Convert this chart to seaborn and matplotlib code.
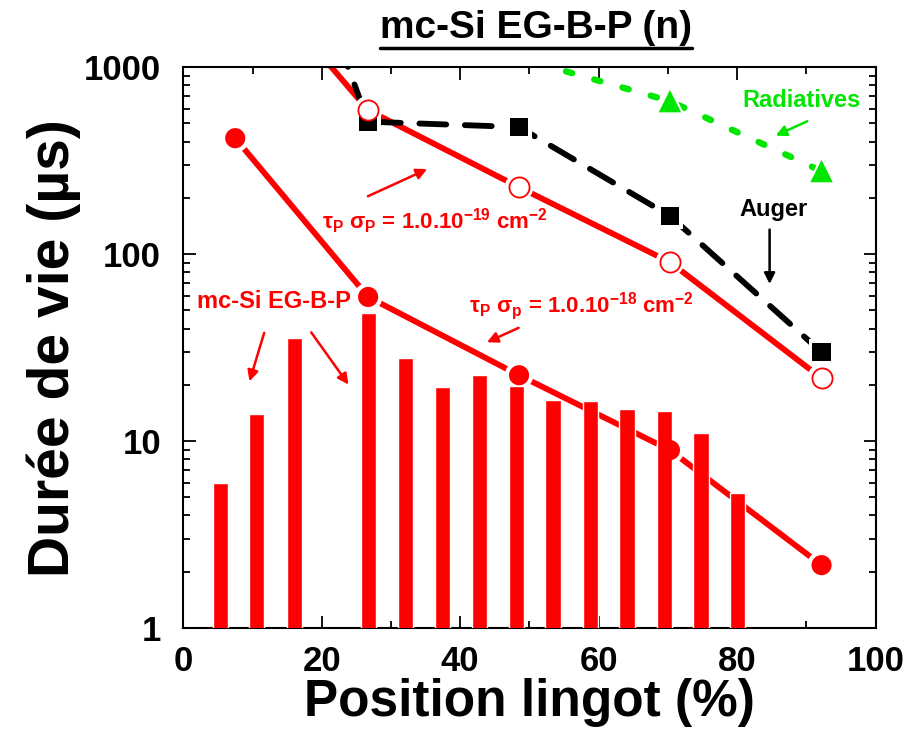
import numpy as np
import pandas as pd
import seaborn as sns
import matplotlib.pyplot as plt
import matplotlib.ticker as mticker
from matplotlib.lines import Line2D

# Données (position en %, durée de vie en µs)
positions = [7.5, 26.7, 48.5, 70.3, 92.2]
tau_sigma19 = [4000, 589, 228, 90.6, 21.7]     # τP σP = 1e-19 (premier point hors cadre)
tau_sigma18 = [417, 59, 22.5, 8.95, 2.17]      # τP σp = 1e-18
auger = [44000, 511, 478, 160, 29.9]           # premier point hors cadre
pos_radiatives = [26.7, 48.5, 70.3, 92.2]
radiatives = [1900, 1120, 658, 278]            # deux premiers hors cadre

pos_bars = [5.35, 10.6, 16.1, 26.8, 32.1, 37.4, 42.8, 48.1, 53.4, 58.8, 64.1, 69.5, 74.8, 80.1]
tau_bars = [5.98, 13.9, 35.4, 48.2, 27.9, 19.4, 22.7, 19.7, 16.6, 16.3, 14.8, 14.4, 11.1, 5.3]

RED = "#ff0000"
GREEN = "#00e600"

sns.set_style("ticks")
plt.rcParams["font.family"] = ["Liberation Sans", "DejaVu Sans"]
plt.rcParams["font.weight"] = "bold"
plt.rcParams["axes.labelweight"] = "bold"
plt.rcParams["mathtext.default"] = "regular"
for k in ["text.color", "axes.labelcolor", "xtick.color", "ytick.color", "axes.edgecolor"]:
    plt.rcParams[k] = "black"

fig = plt.figure(figsize=(9.12, 7.38), dpi=100)
ax = fig.add_axes([0.201, 0.149, 0.759, 0.760])
ax.set_yscale("log")

# Histogramme (barres)
ax.bar(pos_bars, tau_bars, width=2.2, color=RED, zorder=4)

# Courbes
df19 = pd.DataFrame({"x": positions, "y": tau_sigma19})
df18 = pd.DataFrame({"x": positions, "y": tau_sigma18})
dfA = pd.DataFrame({"x": positions, "y": auger})
dfR = pd.DataFrame({"x": pos_radiatives, "y": radiatives})

sns.lineplot(data=df19, x="x", y="y", sort=False, color=RED, lw=4.2, ax=ax, zorder=2)
sns.lineplot(data=df18, x="x", y="y", sort=False, color=RED, lw=4.2, ax=ax, zorder=2)
sns.lineplot(data=dfA, x="x", y="y", sort=False, color="black", lw=4.2, ax=ax, zorder=2,
             linestyle=(0, (4.6, 3.2)))
ax.get_lines()[-1].set_dash_capstyle("round")
sns.lineplot(data=dfR, x="x", y="y", sort=False, color=GREEN, lw=4.6, ax=ax, zorder=2,
             linestyle=(0, (1.0, 3.6)))
ax.get_lines()[-1].set_dash_capstyle("round")

# Marqueurs (avec halo blanc pour l'espace autour)
vis19 = df19.iloc[1:]
visA = dfA.iloc[1:]
visR = dfR.iloc[2:]
for d, m, s in [(vis19, "o", 210), (df18, "o", 210), (visA, "s", 170), (visR, "^", 260)]:
    sns.scatterplot(data=d, x="x", y="y", marker=m, s=s * 2.0, color="white",
                    edgecolor="none", ax=ax, zorder=3, legend=False)
sns.scatterplot(data=visA, x="x", y="y", marker="s", s=170, color="black",
                edgecolor="none", ax=ax, zorder=5, legend=False)
sns.scatterplot(data=visR, x="x", y="y", marker="^", s=260, color=GREEN,
                edgecolor="none", ax=ax, zorder=5, legend=False)
sns.scatterplot(data=df18, x="x", y="y", marker="o", s=210, color=RED,
                edgecolor="none", ax=ax, zorder=5, legend=False)
sns.scatterplot(data=vis19, x="x", y="y", marker="o", s=210, color="white",
                edgecolor=RED, linewidth=1.3, ax=ax, zorder=6, legend=False)

# Axes
ax.set_xlim(0, 100)
ax.set_ylim(1, 1000)
ax.xaxis.set_major_locator(mticker.MultipleLocator(20))
ax.xaxis.set_minor_locator(mticker.MultipleLocator(10))
ax.yaxis.set_major_locator(mticker.FixedLocator([1, 10, 100, 1000]))
ax.yaxis.set_minor_locator(mticker.LogLocator(base=10, subs=np.arange(2, 10)))
ax.yaxis.set_major_formatter(mticker.FuncFormatter(lambda v, p: f"{v:g}"))
ax.yaxis.set_minor_formatter(mticker.NullFormatter())
ax.tick_params(which="both", direction="in", top=True, right=True, width=1.3)
ax.tick_params(which="major", length=9, labelsize=25)
ax.tick_params(axis="y", which="major", pad=16)
ax.tick_params(axis="x", which="major", pad=12)
ax.tick_params(which="minor", length=5)
for sp in ax.spines.values():
    sp.set_linewidth(1.5)
ax.set_xlabel("Position lingot (%)", fontsize=37, fontweight="bold", labelpad=0)
ax.set_ylabel("Durée de vie (µs)", fontsize=41, fontweight="bold", labelpad=2)

# Annotations
arrow = dict(arrowstyle="-|>", lw=1.8, mutation_scale=16)
ax.text(89.3, 666, "Radiatives", color=GREEN, fontsize=17, ha="center", va="center")
ax.annotate("", xy=(85.2, 424), xytext=(90.5, 521), arrowprops=dict(arrow, color=GREEN))
ax.text(85.2, 174, "Auger", color="black", fontsize=17, ha="center", va="center")
ax.annotate("", xy=(84.7, 66.9), xytext=(84.7, 140), arrowprops=dict(arrow, color="black"))
ax.text(20.0, 137, r"τ$_P$ σ$_P$ = 1.0.10$^{-19}$ cm$^{-2}$", color=RED, fontsize=16,
        ha="left", va="baseline")
ax.annotate("", xy=(35.6, 289), xytext=(26.3, 201), arrowprops=dict(arrow, color=RED))
ax.text(41.2, 49.1, r"τ$_P$ σ$_p$ = 1.0.10$^{-18}$ cm$^{-2}$", color=RED, fontsize=16,
        ha="left", va="baseline")
ax.annotate("", xy=(43.5, 33.3), xytext=(48.8, 40.9), arrowprops=dict(arrow, color=RED))
ax.text(2.0, 55.6, "mc-Si EG-B-P", color=RED, fontsize=17, ha="left", va="center", zorder=7)
ax.annotate("", xy=(9.45, 20.2), xytext=(11.8, 39.2), arrowprops=dict(arrow, color=RED))
ax.annotate("", xy=(24.1, 19.5), xytext=(18.25, 39.2), arrowprops=dict(arrow, color=RED))

# Titre souligné
title = fig.text(0.588, 0.962, "mc-Si EG-B-P (n)", fontsize=28, ha="center", va="center")
fig.canvas.draw()
bb = title.get_window_extent().transformed(fig.transFigure.inverted())
fig.add_artist(Line2D([bb.x0, bb.x1], [bb.y0 - 0.002, bb.y0 - 0.002], color="black",
                      lw=2.5, transform=fig.transFigure))

fig.savefig("out.png", dpi=100)
